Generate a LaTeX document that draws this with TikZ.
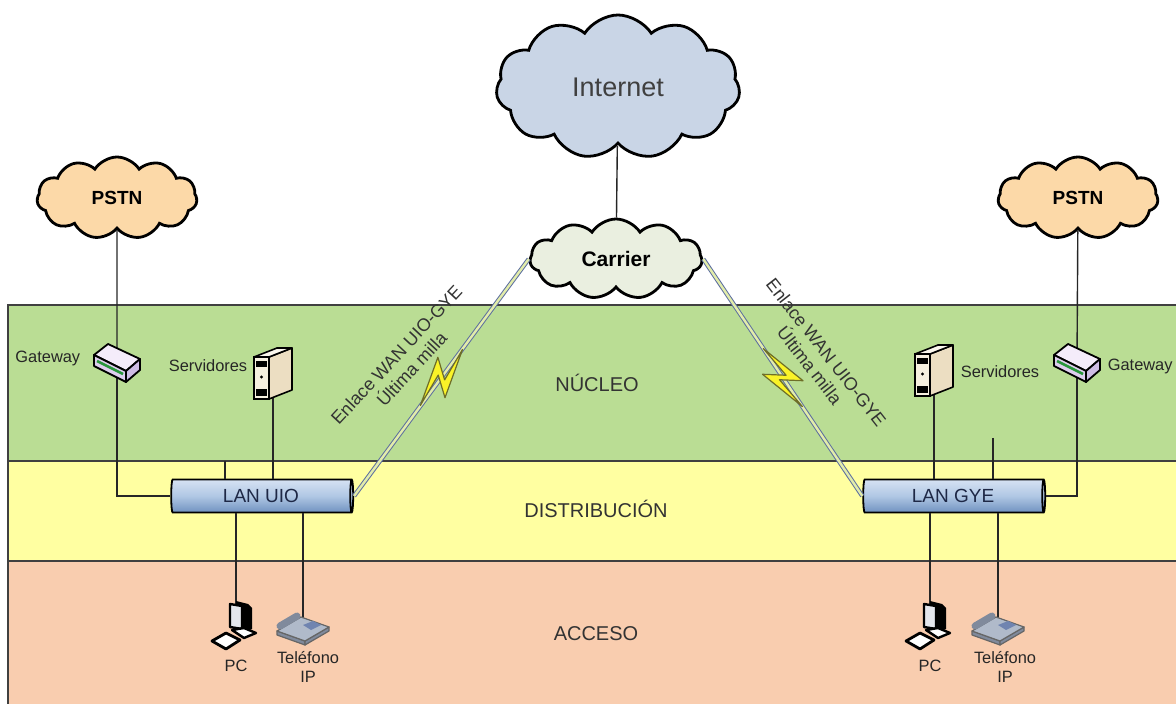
\documentclass[tikz,border=0pt]{standalone}
\usepackage{fontspec}
\setmainfont{Liberation Sans}
\usepackage{tikz}
\usetikzlibrary{positioning, shapes.symbols, shapes.geometric}
\definecolor{nucleo}{RGB}{186,221,148}
\definecolor{distrib}{RGB}{255,255,161}
\definecolor{acceso}{RGB}{249,205,175}
\definecolor{inetfill}{RGB}{201,213,230}
\definecolor{carrierfill}{RGB}{234,239,224}
\definecolor{pstnfill}{RGB}{252,217,168}
\definecolor{lanlight}{RGB}{214,226,243}
\definecolor{lanmid}{RGB}{176,199,228}
\definecolor{landark}{RGB}{112,146,192}
\definecolor{lantext}{RGB}{30,40,70}
\definecolor{wanblue}{RGB}{92,110,160}
\definecolor{wanfill}{RGB}{226,236,170}
\definecolor{boltyellow}{RGB}{250,243,40}
\definecolor{boltedge}{RGB}{110,110,40}
\definecolor{gwtop}{RGB}{244,236,250}
\definecolor{gwfront}{RGB}{222,206,238}
\definecolor{gwside}{RGB}{206,188,228}
\definecolor{gwgreen}{RGB}{40,150,60}
\definecolor{srvfront}{RGB}{246,240,224}
\definecolor{srvside}{RGB}{236,222,194}
\definecolor{srvtop}{RGB}{251,247,238}
\definecolor{pcscreen}{RGB}{228,230,236}
\definecolor{phonegray}{RGB}{176,186,202}
\definecolor{phonedark}{RGB}{128,138,156}
\definecolor{phonekey}{RGB}{112,132,176}

\begin{document}
\begin{tikzpicture}[x=0.5pt, y=-0.5pt,
    cloudbox/.style={cloud, cloud puffs=11, cloud puff arc=115, cloud ignores aspect, draw, line width=1.4pt, inner sep=0pt},
    lan/.style={cylinder, draw, line width=0.9pt, shape aspect=0.22, minimum width=16.5pt, minimum height=91pt,
        top color=lanlight, bottom color=landark, middle color=lanmid, text=lantext,
        font=\fontsize{9.5}{11}\selectfont, inner sep=0pt},
    link/.style={line width=0.7pt, black!85},
    wan/.style={draw=wanblue, line width=0.5pt, double=wanfill, double distance=1.2pt},
    lbl/.style={font=\fontsize{8.2}{9.5}\selectfont, text=black!85, inner sep=1pt, align=center},
    wanlbl/.style={font=\fontsize{9}{10.5}\selectfont, text=black!80, inner sep=1pt, align=center},
    layer/.style={font=\fontsize{10}{12}\selectfont, text=black!80},
    icon/.style={inner sep=0pt, minimum width=22pt, minimum height=20pt},
    band/.style={draw=black!75, line width=0.8pt},
    gateway/.pic={
        \draw[line width=0.9pt, line join=round, fill=gwtop] (-23,-7) -- (-9,-18) -- (23,-3) -- (9,9) -- cycle;
        \draw[line width=0.9pt, line join=round, fill=gwfront] (-23,-7) -- (9,9) -- (9,20) -- (-23,4) -- cycle;
        \draw[line width=0.9pt, line join=round, fill=gwside] (9,9) -- (23,-3) -- (23,8) -- (9,20) -- cycle;
        \draw[line width=1.3pt, gwgreen] (-20,-1) -- (6,12);
    },
    server/.pic={
        \draw[line width=0.8pt, line join=round, fill=srvside] (-4,-16) -- (19,-25) -- (19,17) -- (-4,26) -- cycle;
        \draw[line width=0.8pt, line join=round, fill=srvtop] (-19,-16) -- (4,-25) -- (19,-25) -- (-4,-16) -- cycle;
        \draw[line width=0.8pt, fill=srvfront] (-19,-16) rectangle (-4,26);
        \fill (-17,-12) rectangle (-6,-6);
        \fill (-17,16) rectangle (-6,23);
        \fill (-11.5,4) circle (1.6);
    },
    pc/.pic={
        \fill (0,-26) -- (12,-23) -- (16,-19) -- (16,2) -- (6,6) -- (0,4) -- cycle;
        \draw[line width=1.2pt, line join=round, fill=pcscreen] (-6,-23) -- (6,-21) -- (6,2) -- (-6,0) -- cycle;
        \draw[line width=1.2pt, line join=round, fill=white] (-4,3) -- (8,1) -- (20,6) -- (8,11) -- cycle;
        \draw[line width=1.4pt, line join=round, fill=white] (-24,14) -- (-10,6) -- (4,13) -- (-10,22) -- cycle;
    },
    phone/.pic={
        \draw[line width=0.6pt, line join=round, draw=black!60, fill=phonedark] (-26,4) -- (2,14) -- (2,18) -- (-26,8) -- cycle;
        \draw[line width=0.6pt, line join=round, draw=black!60, fill=phonedark] (2,14) -- (26,0) -- (26,4) -- (2,18) -- cycle;
        \draw[line width=0.6pt, line join=round, draw=black!60, fill=phonegray] (-26,4) -- (-2,-10) -- (26,0) -- (2,14) -- cycle;
        \fill[phonekey] (0,-2) -- (10,-6) -- (18,-2) -- (8,3) -- cycle;
        \draw[line width=3.5pt, line cap=round, phonedark] (-23,-1) -- (-6,-11);
    },
    bolt/.pic={
        \draw[line width=0.6pt, line join=round, draw=boltedge, fill=boltyellow]
            (-35,0) -- (14,-15) -- (0,4) -- (35,0) -- (-14,15) -- (0,-4) -- cycle;
    },
]
\useasboundingbox (0,0) rectangle (1176,704);

% layers
\fill[nucleo] (8,305) rectangle (1176,461);
\fill[distrib] (8,461) rectangle (1176,561);
\fill[acceso] (8,561) rectangle (1176,704);
\draw[band] (1176,305) -- (8,305) -- (8,704);
\draw[band] (8,461) -- (1176,461);
\draw[band] (8,561) -- (1176,561);

\node[layer] (nucleo) at (597,383) {NÚCLEO};
\node[layer] (distrib) at (596,509) {DISTRIBUCIÓN};
\node[layer] (acceso) at (596,634) {ACCESO};

% clouds
\node[cloudbox, fill=inetfill, minimum width=122pt, minimum height=72pt,
    font=\fontsize{13.5}{15}\selectfont, text=black!75] (inet) at (618,87) {Internet};
\node[cloudbox, fill=carrierfill, minimum width=86pt, minimum height=40pt,
    font=\fontsize{10.5}{12}\selectfont\bfseries] (carrier) at (616,259) {Carrier};
\node[cloudbox, fill=pstnfill, minimum width=80pt, minimum height=41pt,
    font=\fontsize{9.5}{11}\selectfont\bfseries] (pstnL) at (117,198) {PSTN};
\node[cloudbox, fill=pstnfill, minimum width=80pt, minimum height=41pt,
    font=\fontsize{9.5}{11}\selectfont\bfseries] (pstnR) at (1078,198) {PSTN};

% LANs
\node[lan] (lanL) at (261,496) {LAN UIO};
\node[lan] (lanR) at (953,496) {LAN GYE};

% equipment
\node[icon] (gwL) at (117,362) {};
\node[icon] (srvL) at (273,373) {};
\node[icon] (pcL) at (236,627) {};
\node[icon] (telL) at (303,627) {};
\node[icon] (gwR) at (1077,362) {};
\node[icon] (srvR) at (934,370) {};
\node[icon] (pcR) at (930,627) {};
\node[icon] (telR) at (998,627) {};

\node[lbl, left=6pt of gwL, yshift=2pt] {Gateway};
\node[lbl, left=0.5pt of srvL, yshift=3.5pt] {Servidores};
\node[lbl, right=3pt of gwR, yshift=-2pt] {Gateway};
\node[lbl, right=1pt of srvR, yshift=-1pt] {Servidores};
\node[lbl, below=5pt of pcL] {PC};
\node[lbl, below=1pt of telL, xshift=2.5pt] {Teléfono\\IP};
\node[lbl, below=5pt of pcR] {PC};
\node[lbl, below=1pt of telR, xshift=3.5pt] {Teléfono\\IP};

\coordinate (stubL) at (225,461);
\coordinate (stubR) at (993,438);

% cabling
\draw[link] (inet) -- (carrier);
\draw[link] (pstnL) -- (gwL.center);
\draw[link] (gwL.center) |- (lanL.west);
\draw[link] (srvL.center) -- (srvL |- lanL.north);
\draw[link] (stubL) -- (stubL |- lanL.north);
\draw[link] (pcL.center) -- (pcL |- lanL.south);
\draw[link] (telL.center) -- (telL |- lanL.south);
\draw[link] (pstnR) -- (gwR.center);
\draw[link] (gwR.center) |- (lanR.east);
\draw[link] (srvR.center) -- (srvR |- lanR.north);
\draw[link] (stubR) -- (stubR |- lanR.north);
\draw[link] (pcR.center) -- (pcR |- lanR.south);
\draw[link] (telR.center) -- (telR |- lanR.south);

% WAN links
\draw[wan] (lanL.east) -- coordinate[midway] (boltL) (carrier.west);
\draw[wan] (carrier.east) -- coordinate[midway] (boltR) (lanR.west);
\pic[rotate=53] at (boltL) {bolt};
\pic[rotate=124] at (boltR) {bolt};
\node[wanlbl, rotate=47] (wanLtxt) at (404,362) {Enlace WAN UIO-GYE\\Última milla};
\node[wanlbl, rotate=-52] (wanRtxt) at (818,359) {Enlace WAN UIO-GYE\\Última milla};

% icons on top of the cables
\pic at (gwL) {gateway};
\pic at (gwR) {gateway};
\pic at (srvL) {server};
\pic at (srvR) {server};
\pic at (pcL) {pc};
\pic at (pcR) {pc};
\pic at (telL) {phone};
\pic at (telR) {phone};
\end{tikzpicture}
\end{document}
